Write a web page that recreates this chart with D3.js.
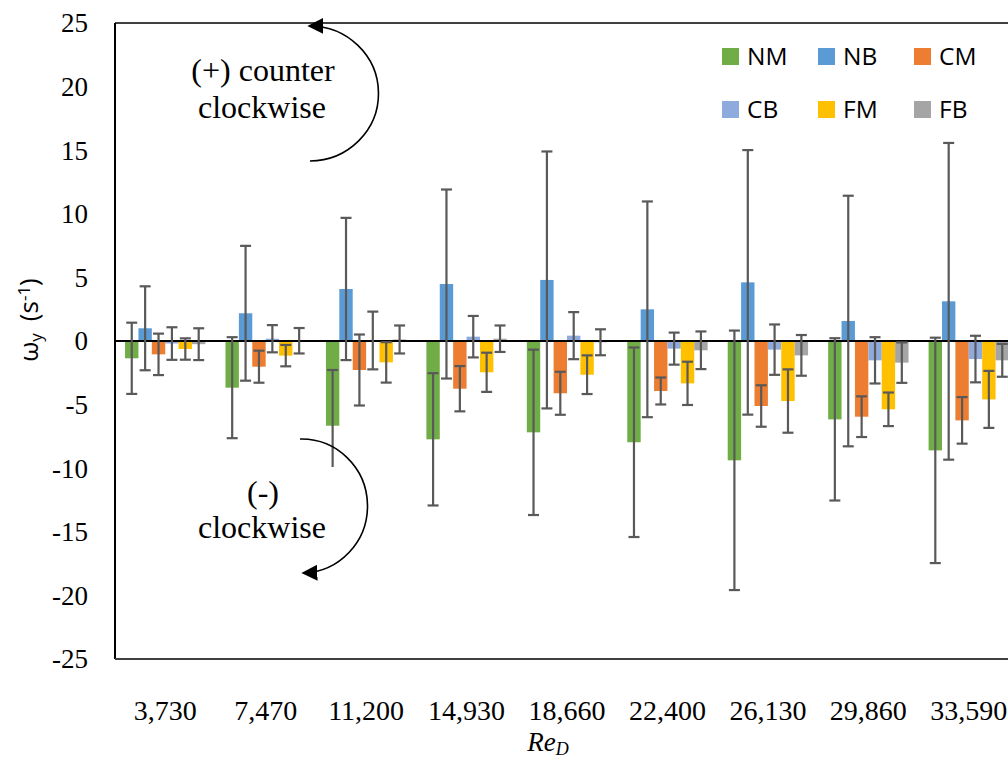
<!DOCTYPE html>
<html>
<head>
<meta charset="utf-8">
<script src="https://cdn.jsdelivr.net/npm/d3@7"></script>
<style>
  html, body { margin: 0; padding: 0; background: #fff; overflow: hidden; }
  svg { display: block; }
</style>
</head>
<body>
<svg id="chart" width="1008" height="762"></svg>
<script>
// ---------- DATA ----------
const categories = ["3,730", "7,470", "11,200", "14,930", "18,660", "22,400", "26,130", "29,860", "33,590"];
const seriesNames = ["NM", "NB", "CM", "CB", "FM", "FB"];
const seriesColors = ["#70AD47", "#5B9BD5", "#ED7D31", "#8FAADC", "#FFC000", "#A5A5A5"];

const NM = [-1.36, -3.67, -6.66, -7.73, -7.18, -7.96, -9.38, -6.16, -8.60];
const NB = [1.00, 2.18, 4.09, 4.48, 4.80, 2.49, 4.61, 1.57, 3.12];
const CM = [-1.05, -2.02, -2.28, -3.75, -4.11, -3.93, -5.11, -5.95, -6.24];
const CB = [-0.20, 0.18, 0.04, 0.34, 0.42, -0.60, -0.68, -1.52, -1.42];
const FM = [-0.63, -1.15, -1.68, -2.46, -2.65, -3.33, -4.72, -5.37, -4.59];
const FB = [-0.25, 0.02, 0.12, 0.18, -0.10, -0.73, -1.13, -1.70, -1.52];

const NM_err = [2.80, 3.97, 4.38, 5.20, 6.50, 7.45, 10.20, 6.38, 8.86];
const NB_err = [3.30, 5.30, 5.59, 7.43, 10.10, 8.48, 10.40, 9.85, 12.45];
const CM_err = [1.63, 1.26, 2.79, 1.78, 1.69, 1.06, 1.63, 1.60, 1.83];
const CB_err = [1.28, 1.07, 2.27, 1.63, 1.85, 1.26, 1.98, 1.82, 1.83];
const FM_err = [0.84, 0.84, 1.59, 1.54, 1.52, 1.70, 2.49, 1.32, 2.24];
const FB_err = [1.25, 1.00, 1.10, 1.04, 1.02, 1.48, 1.60, 1.59, 1.29];

const yTicks = [-25, -20, -15, -10, -5, 0, 5, 10, 15, 20, 25];

const seriesValues = [NM, NB, CM, CB, FM, FB];
const seriesErrors = [NM_err, NB_err, CM_err, CB_err, FM_err, FB_err];

// ---------- LAYOUT ----------
const svg = d3.select("#chart");
const plot = { left: 115, top: 23, right: 1019, bottom: 659 };

const x = d3.scaleBand().domain(categories).range([plot.left, plot.right])
  .paddingInner(0.2).paddingOuter(0.1);
const xs = d3.scaleBand().domain(seriesNames).range([0, x.bandwidth()]).padding(0);
const y = d3.scaleLinear().domain([-25, 25]).range([plot.bottom, plot.top]);

const rows = [];
seriesNames.forEach((s, si) => {
  categories.forEach((c, ci) => {
    rows.push({ s, c, v: seriesValues[si][ci], e: seriesErrors[si][ci], color: seriesColors[si] });
  });
});

// ---------- BARS ----------
svg.append("g").selectAll("rect").data(rows).join("rect")
  .attr("x", d => x(d.c) + xs(d.s))
  .attr("width", xs.bandwidth())
  .attr("y", d => y(Math.max(0, d.v)))
  .attr("height", d => Math.abs(y(d.v) - y(0)))
  .attr("fill", d => d.color);

// ---------- ZERO LINE ----------
svg.append("line")
  .attr("x1", plot.left).attr("x2", plot.right)
  .attr("y1", y(0)).attr("y2", y(0))
  .attr("stroke", "#000").attr("stroke-width", 2);

// ---------- ERROR BARS ----------
const eb = svg.append("g").attr("stroke", "#595959").attr("stroke-width", 2.2).attr("fill", "none");
const cap = 5.5;
rows.forEach(d => {
  const cx = x(d.c) + xs(d.s) + xs.bandwidth() / 2;
  const y1 = y(d.v + d.e), y2 = y(d.v - d.e);
  eb.append("line").attr("x1", cx).attr("x2", cx).attr("y1", y1).attr("y2", y2);
  eb.append("line").attr("x1", cx - cap).attr("x2", cx + cap).attr("y1", y1).attr("y2", y1);
  eb.append("line").attr("x1", cx - cap).attr("x2", cx + cap).attr("y1", y2).attr("y2", y2);
});

// ---------- PLOT BORDER ----------
svg.append("line").attr("x1", plot.left).attr("x2", plot.right)
  .attr("y1", plot.top).attr("y2", plot.top).attr("stroke", "#000").attr("stroke-width", 1.3);
svg.append("line").attr("x1", plot.left).attr("x2", plot.left)
  .attr("y1", plot.top).attr("y2", plot.bottom).attr("stroke", "#000").attr("stroke-width", 2);
svg.append("line").attr("x1", plot.left).attr("x2", plot.right)
  .attr("y1", plot.bottom).attr("y2", plot.bottom).attr("stroke", "#404040").attr("stroke-width", 2);

// ---------- Y AXIS LABELS ----------
svg.append("g").selectAll("text").data(yTicks).join("text")
  .attr("x", 88).attr("y", d => y(d)).attr("dy", "0.35em")
  .attr("text-anchor", "end")
  .attr("font-family", "'Liberation Serif', 'Times New Roman', serif")
  .attr("font-size", 27).attr("fill", "#000")
  .text(d => String(d));

// ---------- X AXIS LABELS ----------
svg.append("g").selectAll("text").data(categories).join("text")
  .attr("x", d => x(d) + x.bandwidth() / 2).attr("y", 720)
  .attr("text-anchor", "middle")
  .attr("font-family", "'Liberation Serif', 'Times New Roman', serif")
  .attr("font-size", 28).attr("fill", "#000")
  .text(d => d);

// x-axis title
const xt = svg.append("text").attr("x", 548).attr("y", 751).attr("text-anchor", "middle")
  .attr("font-family", "'Liberation Serif', 'Times New Roman', serif")
  .attr("font-size", 27).attr("font-style", "italic").attr("fill", "#000");
xt.append("tspan").text("Re");
xt.append("tspan").attr("baseline-shift", "-20%").attr("font-size", 18).text("D");

// y-axis title
const yt = svg.append("text").attr("transform", "translate(38,320) rotate(-90)")
  .attr("text-anchor", "middle")
  .attr("font-family", "'Open Sans', 'Noto Sans', sans-serif")
  .attr("font-size", 26).attr("fill", "#000");
yt.append("tspan").text("ω");
yt.append("tspan").attr("baseline-shift", "-25%").attr("font-size", 17).text("y");
yt.append("tspan").attr("dx", 12).text("(s");
yt.append("tspan").attr("baseline-shift", "45%").attr("font-size", 17).text("-1");
yt.append("tspan").attr("baseline-shift", "0").text(")");

// ---------- LEGEND ----------
const legX = [722, 818, 914];
const legY = [48, 101];
const leg = svg.append("g");
seriesNames.forEach((s, i) => {
  const col = i % 3, row = Math.floor(i / 3);
  leg.append("rect").attr("x", legX[col]).attr("y", legY[row]).attr("width", 17).attr("height", 17)
    .attr("fill", seriesColors[i]);
  leg.append("text").attr("x", legX[col] + 25).attr("y", legY[row] + 17)
    .attr("font-family", "'Open Sans', 'Noto Sans', sans-serif")
    .attr("font-size", 24.5).attr("fill", "#000").text(s);
});

// ---------- ANNOTATIONS ----------
const defs = svg.append("defs");
defs.append("marker").attr("id", "ah").attr("viewBox", "0 0 10 10")
  .attr("refX", 9).attr("refY", 5).attr("markerWidth", 16).attr("markerHeight", 16)
  .attr("markerUnits", "userSpaceOnUse").attr("orient", "auto")
  .append("path").attr("d", "M0,0 L10,5 L0,10 Z").attr("fill", "#000");

// white text box (hides part of the error bar below)
svg.append("rect").attr("x", 195).attr("y", 467).attr("width", 147).attr("height", 85).attr("fill", "#fff");

const annFont = "'Liberation Serif', 'Times New Roman', serif";
svg.append("text").attr("x", 263).attr("y", 81).attr("text-anchor", "middle")
  .attr("font-family", annFont).attr("font-size", 32).text("(+) counter");
svg.append("text").attr("x", 262).attr("y", 118).attr("text-anchor", "middle")
  .attr("font-family", annFont).attr("font-size", 32).text("clockwise");
svg.append("text").attr("x", 263).attr("y", 503).attr("text-anchor", "middle")
  .attr("font-family", annFont).attr("font-size", 32).text("(-)");
svg.append("text").attr("x", 262).attr("y", 538).attr("text-anchor", "middle")
  .attr("font-family", annFont).attr("font-size", 32).text("clockwise");

svg.append("path").attr("d", "M310,161 A69,67.5 0 0 0 309,26")
  .attr("fill", "none").attr("stroke", "#000").attr("stroke-width", 1.6).attr("marker-end", "url(#ah)");
svg.append("path").attr("d", "M300,439 A66,67 0 0 1 303,573")
  .attr("fill", "none").attr("stroke", "#000").attr("stroke-width", 1.6).attr("marker-end", "url(#ah)");
</script>
</body>
</html>
